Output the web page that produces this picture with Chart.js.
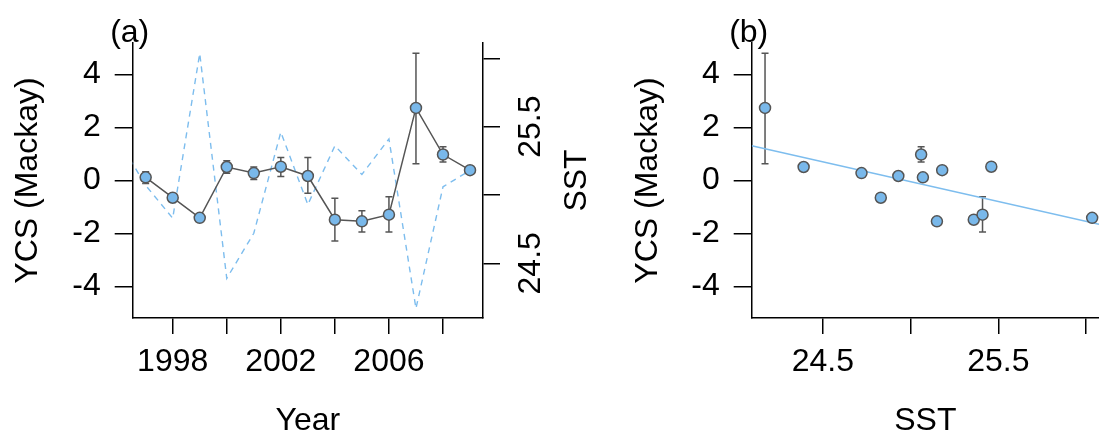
<!DOCTYPE html>
<html>
<head>
<meta charset="utf-8">
<script src="https://cdn.jsdelivr.net/npm/chart.js@4.4.0/dist/chart.umd.min.js"></script>
<style>
  html, body { margin: 0; padding: 0; background: #fff; overflow: hidden; }
  #wrap { position: relative; width: 1099px; height: 437px; }
  canvas { position: absolute; top: 0; }
  #chart-a { left: 0; }
  #chart-b { left: 620px; }
</style>
</head>
<body>
<div id="wrap">
  <canvas id="chart-a" width="620" height="437"></canvas>
  <canvas id="chart-b" width="479" height="437"></canvas>
</div>
<script>
// ─── Data ────────────────────────────────────────────────────────────────────
const years   = [1997, 1998, 1999, 2000, 2001, 2002, 2003, 2004, 2005, 2006, 2007, 2008, 2009];
const ycs     = [0.12, -0.65, -1.41, 0.51, 0.28, 0.52, 0.17, -1.48, -1.54, -1.29, 2.74, 0.98, 0.39];
const ycsLo   = [-0.11, null, null, 0.27, 0.04, 0.15, -0.48, -2.28, -1.94, -1.94, 0.63, 0.70, null];
const ycsHi   = [0.33, null, null, 0.75, 0.51, 0.87, 0.87, -0.67, -1.14, -0.61, 4.80, 1.27, null];

// SST series (right axis of panel a), 1996 point sits outside the plot and is clipped
const sstYears = [1996, 1997, 1998, 1999, 2000, 2001, 2002, 2003, 2004, 2005, 2006, 2007, 2008, 2009];
const sst      = [25.40, 25.07, 24.83, 26.035, 24.39, 24.72, 25.46, 24.93, 25.36, 25.15, 25.41, 24.17, 25.06, 25.18];

// panel b: SST for each of the YCS years, error bars only where the figure shows them
const sstB    = [25.07, 24.83, 26.035, 24.39, 24.72, 25.46, 24.93, 25.36, 25.15, 25.41, 24.17, 25.06, 25.18];
const bErrLo  = [null, null, null, null, null, null, null, null, null, -1.94, 0.63, 0.70, null];
const bErrHi  = [null, null, null, null, null, null, null, null, null, -0.61, 4.80, 1.27, null];

// fitted line end points (at the plot edges)
const regSst = [24.094, 26.074];
const regYcs = [1.31, -1.65];

// ticks
const yearTicks  = [1998, 2000, 2002, 2004, 2006, 2008];
const yearLabels = ['1998', '', '2002', '', '2006', ''];
const ycsTicks   = [-4, -2, 0, 2, 4];
const sstTicks   = [24.5, 25, 25.5, 26];
const sstLabels  = ['24.5', '', '25.5', ''];

// ─── Styling ─────────────────────────────────────────────────────────────────
const FONT = '"Liberation Sans", Arial, sans-serif';
const FS = 32;
const PT_FILL = '#79b8ea';
const GREY = '#555555';
const BLUE = '#7dbdee';

Chart.defaults.font.family = FONT;
Chart.defaults.color = '#000';

const errorBars = {
  id: 'errorBars',
  beforeDatasetsDraw(chart, args, opts) {
    if (!opts || !opts.xs) return;
    const { ctx } = chart;
    const x = chart.scales.x, y = chart.scales.y;
    ctx.save();
    ctx.strokeStyle = GREY;
    ctx.lineWidth = 1.5;
    for (let i = 0; i < opts.xs.length; i++) {
      if (opts.lo[i] == null) continue;
      const px = x.getPixelForValue(opts.xs[i]);
      const p1 = y.getPixelForValue(opts.lo[i]);
      const p2 = y.getPixelForValue(opts.hi[i]);
      ctx.beginPath();
      ctx.moveTo(px, p1); ctx.lineTo(px, p2);
      ctx.moveTo(px - 3.5, p1); ctx.lineTo(px + 3.5, p1);
      ctx.moveTo(px - 3.5, p2); ctx.lineTo(px + 3.5, p2);
      ctx.stroke();
    }
    ctx.restore();
  }
};

const annot = {
  id: 'annot',
  afterDraw(chart, args, opts) {
    const { ctx, chartArea } = chart;
    ctx.save();
    ctx.fillStyle = '#000';
    ctx.font = FS + 'px ' + FONT;
    ctx.textAlign = 'center';
    ctx.textBaseline = 'middle';
    ctx.fillText(opts.tag, chartArea.left - 3, 33);
    if (opts.rightTitle) {
      ctx.translate(opts.rightX, (chartArea.top + chartArea.bottom) / 2);
      ctx.rotate(-Math.PI / 2);
      ctx.fillText(opts.rightTitle, 0, 0);
    }
    ctx.restore();
  }
};

function axisBase(tickLen) {
  return {
    grid: { drawOnChartArea: false, drawTicks: true, tickLength: tickLen, color: '#000', lineWidth: 1.5 },
    border: { display: true, color: '#000', width: 1.5 },
  };
}

function ycsAxis(width) {
  return {
    type: 'linear', position: 'left', min: -5.19, max: 5.19,
    afterBuildTicks: s => { s.ticks = ycsTicks.map(v => ({ value: v })); },
    afterFit: s => { s.width = width; },
    ticks: { font: { size: FS, lineHeight: 1 }, padding: 14, autoSkip: false, callback: v => String(v) },
    title: { display: true, text: 'YCS (Mackay)', font: { size: FS, lineHeight: 1 }, padding: { top: 12.5, bottom: 0 } },
    ...axisBase(18),
  };
}

// x axes: fixed height and no extra side padding for edge labels
function fitX(s) {
  s.height = 119;
  s.paddingLeft = 0;
  s.paddingRight = 0;
}

const layoutOpts = { autoPadding: false, padding: { top: 43, left: 0, right: 0, bottom: 0 } };

// ─── Panel (a): YCS and SST against year ─────────────────────────────────────
new Chart(document.getElementById('chart-a'), {
  type: 'line',
  data: {
    datasets: [
      {
        label: 'YCS',
        data: years.map((yr, i) => ({ x: yr, y: ycs[i] })),
        yAxisID: 'y',
        borderColor: GREY, borderWidth: 1.5,
        pointRadius: 5.5, pointBackgroundColor: PT_FILL, pointBorderColor: GREY, pointBorderWidth: 1.5,
        tension: 0,
      },
      {
        label: 'SST',
        data: sstYears.map((yr, i) => ({ x: yr, y: sst[i] })),
        yAxisID: 'y1',
        borderColor: BLUE, borderWidth: 1.4, borderDash: [6, 5],
        pointRadius: 0, tension: 0,
      },
    ],
  },
  options: {
    responsive: false, animation: false, devicePixelRatio: 1,
    layout: layoutOpts,
    plugins: {
      legend: { display: false }, tooltip: { enabled: false },
      errorBars: { xs: years, lo: ycsLo, hi: ycsHi },
      annot: { tag: '(a)', rightTitle: 'SST', rightX: 577 },
    },
    scales: {
      x: {
        type: 'linear', min: 1996.52, max: 2009.48,
        afterBuildTicks: s => { s.ticks = yearTicks.map(v => ({ value: v })); },
        afterFit: fitX,
        ticks: { font: { size: FS, lineHeight: 1 }, padding: 12, autoSkip: false, maxRotation: 0,
                 callback: v => yearLabels[yearTicks.indexOf(v)] },
        title: { display: true, text: 'Year', font: { size: FS, lineHeight: 1 }, padding: { top: 0, bottom: 0 } },
        ...axisBase(16),
      },
      y: ycsAxis(132.7),
      y1: {
        type: 'linear', position: 'right', min: 24.1, max: 26.112,
        afterBuildTicks: s => { s.ticks = sstTicks.map(v => ({ value: v })); },
        afterFit: s => { s.width = 137; },
        ticks: { font: { size: FS, lineHeight: 1 }, padding: 0, autoSkip: false,
                 minRotation: 90, maxRotation: 90, crossAlign: 'center',
                 callback: v => sstLabels[sstTicks.indexOf(v)] },
        ...axisBase(17),
      },
    },
  },
  plugins: [errorBars, annot],
});

// ─── Panel (b): YCS against SST ──────────────────────────────────────────────
new Chart(document.getElementById('chart-b'), {
  type: 'scatter',
  data: {
    datasets: [
      {
        label: 'YCS',
        data: sstB.map((s, i) => ({ x: s, y: ycs[i] })),
        pointRadius: 5.5, pointBackgroundColor: PT_FILL, pointBorderColor: GREY, pointBorderWidth: 1.5,
      },
      {
        label: 'fit',
        type: 'line',
        data: regSst.map((s, i) => ({ x: s, y: regYcs[i] })),
        borderColor: BLUE, borderWidth: 1.4, pointRadius: 0, showLine: true,
      },
    ],
  },
  options: {
    responsive: false, animation: false, devicePixelRatio: 1,
    layout: layoutOpts,
    plugins: {
      legend: { display: false }, tooltip: { enabled: false },
      errorBars: { xs: sstB, lo: bErrLo, hi: bErrHi },
      annot: { tag: '(b)' },
    },
    scales: {
      x: {
        type: 'linear', min: regSst[0], max: regSst[1],
        afterBuildTicks: s => { s.ticks = sstTicks.map(v => ({ value: v })); },
        afterFit: fitX,
        ticks: { font: { size: FS, lineHeight: 1 }, padding: 12, autoSkip: false, maxRotation: 0,
                 callback: v => sstLabels[sstTicks.indexOf(v)] },
        title: { display: true, text: 'SST', font: { size: FS, lineHeight: 1 }, padding: { top: 0, bottom: 0 } },
        ...axisBase(16),
      },
      y: ycsAxis(131.7),
    },
  },
  plugins: [errorBars, annot],
});
</script>
</body>
</html>
